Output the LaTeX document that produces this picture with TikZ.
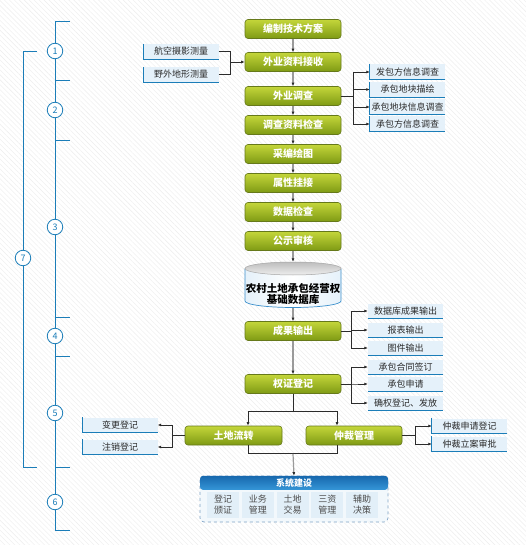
\documentclass[tikz,border=0pt]{standalone}
\usepackage{fontspec}
\setmainfont{Noto Sans CJK SC}
\usepackage{tikz}
\usetikzlibrary{arrows.meta,positioning,calc,patterns.meta}
\definecolor{cGrnT}{HTML}{C4D63A}
\definecolor{cGrnB}{HTML}{7E9A14}
\definecolor{cGrnE}{HTML}{66791A}
\definecolor{cLine}{HTML}{1B7DB8}
\definecolor{cSide}{HTML}{E5F1FA}
\definecolor{cInk}{HTML}{2B2B2B}
\definecolor{cGray}{HTML}{9A9A9A}
\definecolor{cHatch}{HTML}{EDEDED}
\definecolor{cHeadT}{HTML}{1768AE}
\definecolor{cHeadB}{HTML}{3596D8}
\definecolor{cDash}{HTML}{7FA3C6}
\definecolor{cCell}{HTML}{E2EFF8}
\definecolor{cDbTop}{HTML}{BDBDBD}
\definecolor{cDbEdge}{HTML}{3C90CC}

\begin{document}
\begin{tikzpicture}[x=1pt,y=-1pt,
  stepbox/.style={draw=cGrnE,line width=0.6pt,rounded corners=3pt,top color=cGrnT,bottom color=cGrnB,
                  text=white,font=\fontsize{10}{12}\selectfont\bfseries,
                  minimum width=96pt,minimum height=19pt,inner sep=0pt},
  side/.style={fill=cSide,minimum width=75pt,minimum height=15pt,inner sep=0pt,
               text=cInk,font=\fontsize{9}{10}\selectfont},
  edge/.style={draw=cLine,line width=0.8pt},
  flow/.style={-{Latex[length=3.5pt,width=3pt,color=cInk]},line width=1.2pt,color=cGray},
  tree/.style={line width=0.7pt,color=cInk},
  treearr/.style={tree,-{Latex[length=3.5pt,width=3pt]}},
  tl/.style={line width=0.9pt,color=cLine},
  num/.style={circle,draw=cLine,line width=0.8pt,fill=white,text=cLine,minimum size=15.5pt,
              inner sep=0pt,font=\fontsize{9}{9}\selectfont},
  dbtext/.style={align=center,text=black,font=\fontsize{10.5}{12}\selectfont\bfseries},
  sysbox/.style={draw=cDash,dashed,line width=0.7pt,rounded corners=4pt,fill=cSide!50,
                 minimum width=188pt,minimum height=46pt,inner sep=0pt},
  syshead/.style={rounded corners=3pt,top color=cHeadT,bottom color=cHeadB,text=white,
                  font=\fontsize{9}{10}\selectfont\bfseries,minimum width=188pt,minimum height=14pt,inner sep=0pt},
  cell/.style={fill=cCell,minimum width=32pt,minimum height=26pt,inner sep=0pt,align=center,
               text=cInk!85,font=\fontsize{9}{11}\selectfont},
]

% ====================================================== background
\fill[white] (0,0) rectangle (526,545);
\fill[pattern={Lines[angle=-45,distance=3.5pt,line width=0.4pt]},pattern color=cHatch] (0,0) rectangle (526,545);
\useasboundingbox (0,0) rectangle (526,545);

% ====================================================== main flow
\node[stepbox] (sPlan) at (293,29)  {编制技术方案};
\node[stepbox] (sRecv) at (293,62)  {外业资料接收};
\node[stepbox] (sSurv) at (293,96)  {外业调查};
\node[stepbox] (sChk)  at (293,125) {调查资料检查};
\node[stepbox] (sDraw) at (293,154) {采编绘图};
\node[stepbox] (sAttr) at (293,183) {属性挂接};
\node[stepbox] (sData) at (293,212) {数据检查};
\node[stepbox] (sPub)  at (293,241) {公示审核};

% -- database cylinder
\path[left color=cSide,right color=cSide,middle color=white,draw=cDbEdge,line width=0.7pt]
  (245,268.5) -- (245,301) arc[start angle=180,end angle=360,x radius=48pt,y radius=6.5pt] -- (341,268.5);
\path[top color=cDbTop,bottom color=cDbTop!25,draw=gray!70,line width=0.5pt]
  (293,268.5) ellipse[x radius=48pt,y radius=6.5pt];
\node[minimum width=96pt,minimum height=46pt,inner sep=0pt] (db) at (293,285) {};
\node[dbtext] (dbT) at (293,294) {农村土地承包经营权\\[-1pt]基础数据库};

\node[stepbox] (sOut)  at (293,331) {成果输出};
\node[stepbox] (sCert) at (293,384) {权证登记};
\node[stepbox,minimum width=97pt] (sTrans) at (233.5,435.5) {土地流转};
\node[stepbox] (sArb)  at (354,435.5) {仲裁管理};

\foreach \a/\b in {sPlan/sRecv,sRecv/sSurv,sSurv/sChk,sChk/sDraw,sDraw/sAttr,sAttr/sData,
                   sData/sPub,sPub/db,db/sOut,sOut/sCert}
  \draw[flow] (\a) -- (\b);

% -- split and merge below 权证登记
\draw[tree] (sCert.south) -- ++(0,18) coordinate (jTop);
\draw[treearr] (jTop) -| ($(sTrans.north)+(14.5,0)$);
\draw[treearr] (jTop) -| ($(sArb.north)+(-17,0)$);
\coordinate (jBot) at ($(sCert.south)+(0,60)$);
\draw[tree] ($(sTrans.south)+(14.5,0)$) |- (jBot) -| ($(sArb.south)+(-17,0)$);

% -- system box
\node[sysbox] (xtjs) at (294,499) {};
\node[syshead,anchor=north] (xtjsH) at (xtjs.north) {系统建设};
\foreach \t [count=\i] in {{登记\\颁证},{业务\\管理},{土地\\交易},{三资\\管理},{辅助\\决策}}
  \node[cell] (xc\i) at ({188.25+34.75*\i},504.5) {\t};
\draw[flow] (jBot) -- (xtjs.north);

% ====================================================== side items
\node[side] (p1) at (181,51.5) {航空摄影测量};
\node[side] (p2) at (181,74.5) {野外地形测量};
\coordinate (jIn) at ($(sRecv.west)+(-14,0)$);
\draw[tree] (p1.east) -| (jIn);
\draw[tree] (p2.east) -| (jIn);
\draw[treearr] (jIn) -- (sRecv.west);

\node[side] (r1) at (407.5,72)  {发包方信息调查};
\node[side] (r2) at (407.5,89.5){承包地块描绘};
\node[side] (r3) at (407.5,107) {承包地块信息调查};
\node[side] (r4) at (407.5,124) {承包方信息调查};
\foreach \n in {r1,r2,r3,r4}
  \draw[treearr] (sSurv.east) -- ++(12,0) |- (\n.west);

\node[side] (o1) at (405.5,311) {数据库成果输出};
\node[side] (o2) at (405.5,330) {报表输出};
\node[side] (o3) at (405.5,348) {图件输出};
\foreach \n in {o1,o2,o3}
  \draw[treearr] (sOut.east) -- ++(10,0) |- (\n.west);

\node[side] (c1) at (405.5,367) {承包合同签订};
\node[side] (c2) at (405.5,384) {承包申请};
\node[side] (c3) at (405.5,403) {确权登记、发放};
\foreach \n in {c1,c2,c3}
  \draw[treearr] (sCert.east) -- ++(10,0) |- (\n.west);

\node[side] (a1) at (469.5,426) {仲裁申请登记};
\node[side] (a2) at (469.5,444) {仲裁立案审批};
\foreach \n in {a1,a2}
  \draw[treearr] (sArb.east) -- ++(13,0) |- (\n.west);

\node[side] (g1) at (120,425) {变更登记};
\node[side] (g2) at (120,447) {注销登记};
\foreach \n in {g1,g2}
  \draw[treearr] (sTrans.west) -- ++(-12,0) |- (\n.east);

% blue rules on the side items
\foreach \n in {p1,p2,r1,r2,r3,r4,a1,a2,g1,g2}
  \draw[edge] (\n.north west) |- (\n.south east);
\foreach \n in {o1,o2,o3,c1,c2,c3}
  \draw[edge] (\n.south west) -- (\n.south east);

% ====================================================== stage line
\draw[tl] (55,21) -- (55,530);
\foreach \y in {21,80,140,317,356,467,530}
  \draw[tl] (55,\y) -- (70,\y);
\foreach \y/\k in {51/1,110/2,227/3,336/4,413/5,502/6}
  \node[num] (st\k) at (55,\y) {\k};
\draw[tl] (37,51) -- (23,51) -- (23,467) -- (37,467);
\node[num] (st7) at (23,258) {7};

\end{tikzpicture}
\end{document}
